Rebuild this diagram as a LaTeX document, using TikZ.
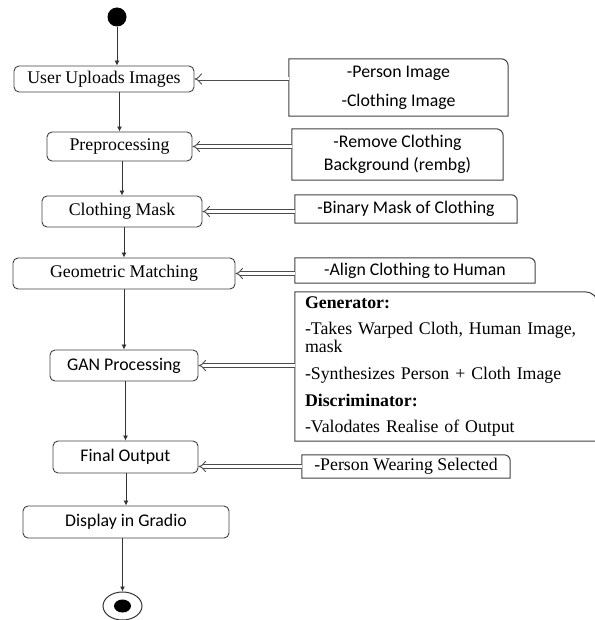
\documentclass[tikz,border=0pt]{standalone}
\usepackage{fontspec}
\setmainfont{Liberation Serif}
\newfontfamily\calib{Carlito}
\usetikzlibrary{arrows.meta,shapes.geometric}
\newcommand{\bigsz}{\fontsize{17.8pt}{21pt}\selectfont}
% note frame with only the top right corner rounded
\newcommand{\notebox}[2]{%
    \draw[noteline] (#1.south west) -- (#1.north west) -- ([xshift=-#2]#1.north east)
        arc[start angle=90, end angle=0, radius=#2] -- (#1.south east) -- cycle;}
\tikzset{
        act/.style = {draw=black!75, line width=0.9pt, rounded corners=5pt,
            inner sep=0pt, align=center},
        act_s/.style = {act, font=\bigsz},
        act_c/.style = {act, font=\calib\bigsz},
        nt/.style = {inner sep=0pt, align=center},
        nt_s/.style = {nt, font=\bigsz},
        nt_c/.style = {nt, font=\calib\bigsz},
        noteline/.style = {draw=black!75, line width=1pt},
        flow/.style = {-{Latex[length=5pt,width=5pt]}, line width=0.8pt, draw=black!80},
        dbl/.style = {-{Implies}, double=white, double distance=3pt,
            line width=0.9pt, draw=black!70}
    }
\begin{document}
\begin{tikzpicture}[x=1pt, y=-1pt]
    \useasboundingbox (0,0) rectangle (594,620);
    % start and end
    \node [circle, fill=black, minimum size=19pt, inner sep=0pt] (s) at (117,17) {};
    \node [ellipse, draw=black!80, line width=1pt, minimum width=39pt,
        minimum height=28pt, inner sep=0pt] (e) at (122.5,606) {};
    \node [ellipse, fill=black, minimum width=17pt, minimum height=13pt,
        inner sep=0pt] (e_in) at (e.center) {};
    % activities
    \node [act_s, minimum width=180pt, minimum height=26pt] (up) at (104,79) {User Uploads Images};
    \node [act_s, minimum width=145pt, minimum height=29pt] (pre) at (119.5,146.5) {Preprocessing};
    \node [act_s, minimum width=160pt, minimum height=31pt] (mask) at (122,211.5) {Clothing Mask};
    \node [act_s, minimum width=222pt, minimum height=31pt] (geo) at (124,273.5) {Geometric Matching};
    \node [act_c, minimum width=148pt, minimum height=31pt] (gan) at (124,365.5) {GAN Processing};
    \node [act_c, minimum width=145pt, minimum height=32pt] (fin) at (125.5,457) {Final Output};
    \node [act_c, minimum width=206pt, minimum height=32pt] (disp) at (126,522) {Display in Gradio};
    % notes
    \node [nt_c, minimum width=219pt, minimum height=57pt] (n1) at (398.5,87.5)
        {-Person Image\\[8pt]-Clothing Image};
    \node [nt_c, minimum width=211pt, minimum height=51pt] (n2) at (397.5,154.5)
        {-Remove Clothing\\[2pt]Background (rembg)};
    \node [nt_c, minimum width=222pt, minimum height=28pt] (n3) at (406,209) {-Binary Mask of Clothing};
    \node [nt_c, minimum width=240pt, minimum height=25pt] (n4) at (415,270.5) {-Align Clothing to Human};
    \node [nt_s, align=left, text width=283pt, inner xsep=10pt, minimum height=149pt,
        font=\fontsize{17.8pt}{18pt}\selectfont] (n5) at (446.5,366.5)
        {\textbf{Generator:}\\[8.5pt]
         -Takes Warped Cloth, Human Image,\\
         mask\\[8.5pt]
         -Synthesizes Person + Cloth Image\\[8.5pt]
         \textbf{Discriminator:}\\[8.5pt]
         -Valodates Realise of Output};
    \node [nt_s, minimum width=208pt, minimum height=23pt] (n6) at (406,466.5) {-Person Wearing Selected};
    \notebox{n1}{7pt}
    \notebox{n2}{7pt}
    \notebox{n3}{6pt}
    \notebox{n4}{6pt}
    \notebox{n5}{13pt}
    \notebox{n6}{6pt}
    % control flow
    \draw [flow] (s) -- (s |- up.north);
    \draw [flow] (up.south -| pre.north) -- (pre.north);
    \draw [flow] (pre.south -| mask.north) -- (mask.north);
    \draw [flow] (mask.south -| geo.north) -- (geo.north);
    \draw [flow] (geo.south -| gan.north) -- (gan.north);
    \draw [flow] (gan.south -| fin.north) -- (fin.north);
    \draw [flow] (fin.south -| disp.north) -- (disp.north);
    \draw [flow] (disp.south -| e.north) -- (e.north);
    % inputs from the notes
    \draw [dbl] (n1.west |- up.east) -- (up.east);
    \draw [dbl] (n2.west |- pre.east) -- (pre.east);
    \draw [dbl] (n3.west |- mask.east) -- (mask.east);
    \draw [dbl] (n4.west |- geo.east) -- (geo.east);
    \draw [dbl] (n5.west |- gan.east) -- (gan.east);
    \draw [dbl] (n6.west) -- (n6.west -| fin.east);
\end{tikzpicture}
\end{document}
